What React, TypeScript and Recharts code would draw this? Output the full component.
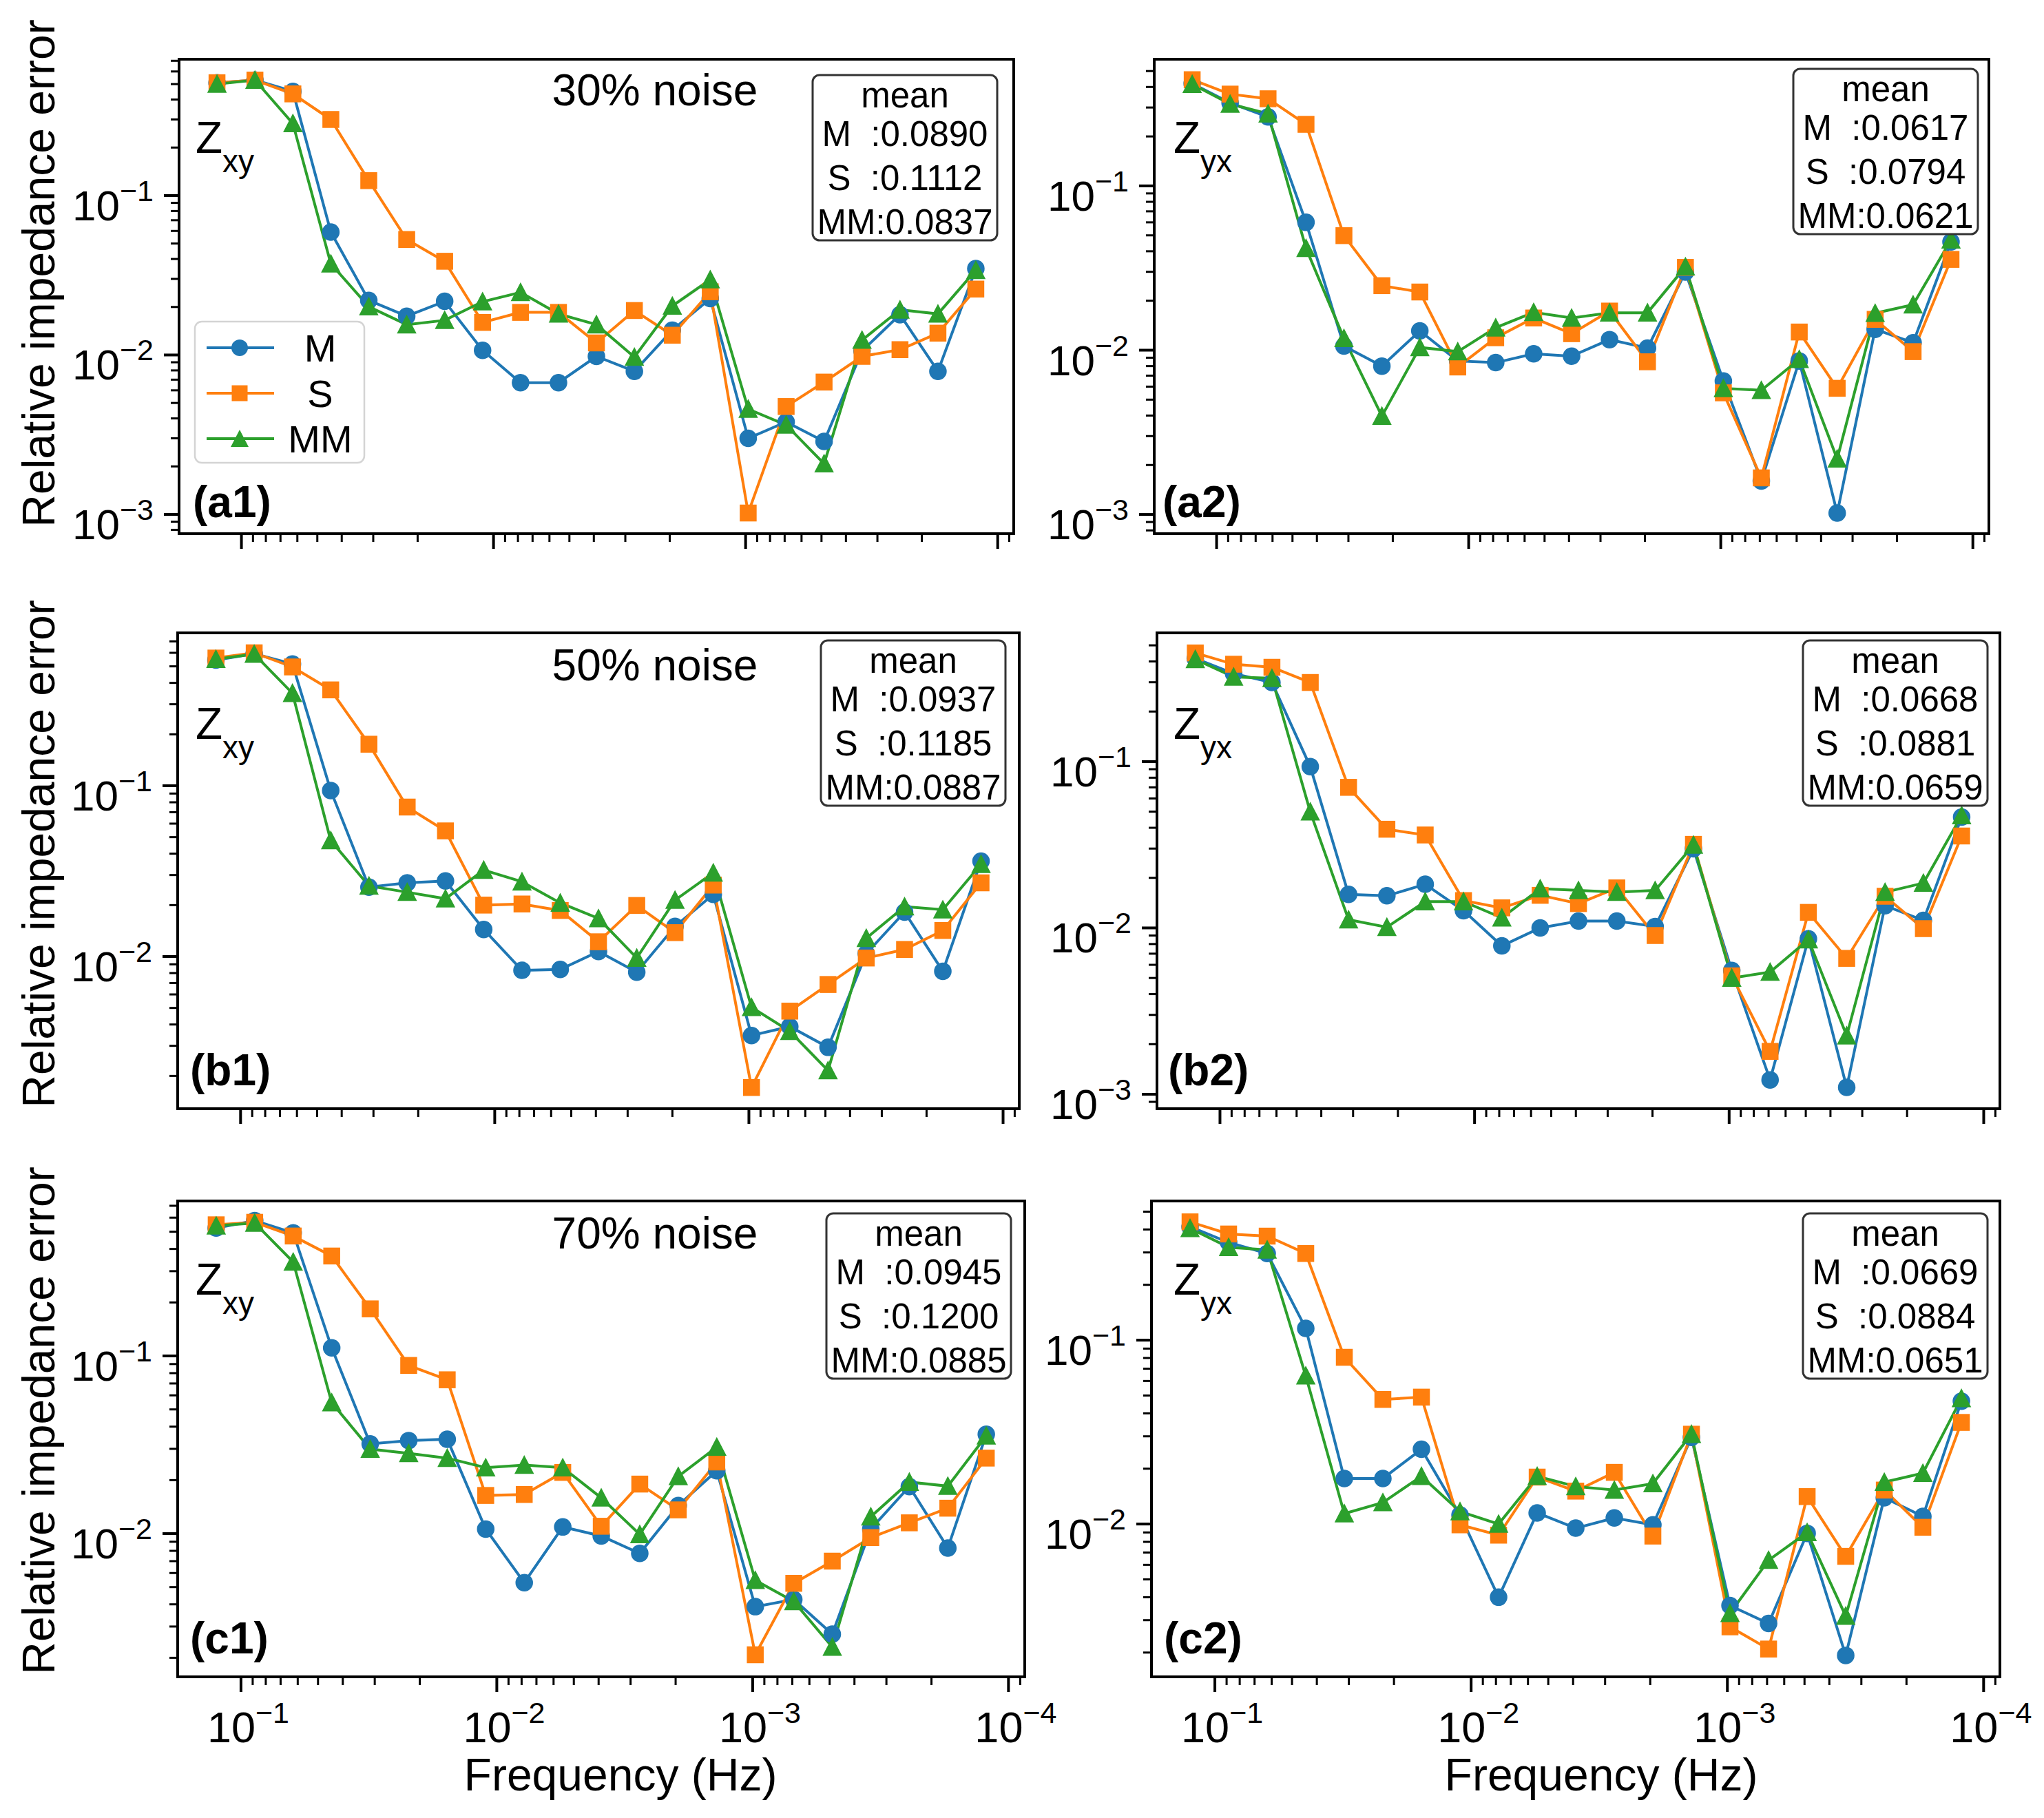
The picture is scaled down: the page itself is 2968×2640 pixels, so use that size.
import { Line, LineChart, ReferenceArea, XAxis, YAxis } from "recharts";

const FONT = '"Liberation Sans", Arial, Helvetica, sans-serif';
const BLUE = "#1f77b4";
const ORANGE = "#ff7f0e";
const GREEN = "#2ca02c";

// frequencies (Hz), halving every two points
const FREQS = [
  0.125, 0.08839, 0.0625, 0.04419, 0.03125, 0.0221, 0.015625, 0.01105, 0.0078125, 0.005524, 0.00390625,
  0.002762, 0.001953, 0.001381, 0.0009766, 0.0006905, 0.0004883, 0.0003453, 0.0002441, 0.0001726, 0.0001221,
];

const X_MAJOR = [1e-1, 1e-2, 1e-3, 1e-4];
const Y_MAJOR = [1e-1, 1e-2, 1e-3];
const MINOR_STEPS = [2, 3, 4, 5, 6, 7, 8, 9];
const X_DOMAIN: [number, number] = [8.637e-5, 0.17678];

// 30% noise
const a1M = [0.51, 0.53, 0.45, 0.059, 0.022, 0.0175, 0.0217, 0.0107, 0.0067, 0.0067, 0.0098, 0.0079, 0.0143, 0.0226, 0.003, 0.0038, 0.00287, 0.0106, 0.0179, 0.0079, 0.0348];
const a1S = [0.51, 0.53, 0.434, 0.3, 0.124, 0.053, 0.0387, 0.016, 0.0185, 0.0185, 0.0119, 0.019, 0.0133, 0.0249, 0.00102, 0.00475, 0.00676, 0.0098, 0.0108, 0.0137, 0.0259];
const a1MM = [0.5, 0.53, 0.283, 0.0373, 0.0201, 0.0155, 0.0165, 0.0216, 0.0247, 0.0181, 0.0155, 0.0097, 0.0203, 0.0297, 0.00458, 0.00364, 0.00208, 0.0124, 0.0192, 0.0181, 0.034];
const a2M = [0.42, 0.32, 0.263, 0.06, 0.0106, 0.008, 0.0131, 0.0086, 0.0084, 0.0095, 0.0092, 0.0116, 0.0103, 0.0299, 0.0065, 0.0016, 0.0086, 0.00102, 0.0134, 0.0111, 0.0456];
const a2S = [0.443, 0.362, 0.339, 0.237, 0.0498, 0.0247, 0.0226, 0.0079, 0.0119, 0.0157, 0.0126, 0.0173, 0.0085, 0.0319, 0.0055, 0.00167, 0.0129, 0.00586, 0.0154, 0.0098, 0.0357];
const a2MM = [0.416, 0.315, 0.275, 0.0417, 0.0118, 0.00397, 0.0104, 0.0098, 0.0137, 0.017, 0.0157, 0.0169, 0.0169, 0.0322, 0.00586, 0.0057, 0.0088, 0.00218, 0.0168, 0.0189, 0.047];

// 50% noise
const b1M = [0.544, 0.593, 0.516, 0.0938, 0.0255, 0.027, 0.0277, 0.0144, 0.0083, 0.0084, 0.0107, 0.0081, 0.015, 0.0231, 0.00345, 0.00389, 0.00294, 0.0104, 0.0182, 0.0082, 0.0362];
const b1S = [0.559, 0.6, 0.496, 0.364, 0.175, 0.075, 0.0544, 0.02, 0.0203, 0.0186, 0.0122, 0.0199, 0.0138, 0.0262, 0.00171, 0.00479, 0.00686, 0.0098, 0.011, 0.0142, 0.027];
const b1MM = [0.55, 0.59, 0.348, 0.0478, 0.0259, 0.0238, 0.0218, 0.0321, 0.0274, 0.0206, 0.0167, 0.0098, 0.0214, 0.0309, 0.00504, 0.00365, 0.00215, 0.0128, 0.0196, 0.0188, 0.0347];
const b2M = [0.417, 0.338, 0.299, 0.0932, 0.0159, 0.0156, 0.0183, 0.0127, 0.0078, 0.01, 0.011, 0.011, 0.0102, 0.0299, 0.00555, 0.00122, 0.0086, 0.0011, 0.0136, 0.0111, 0.0464];
const b2S = [0.45, 0.385, 0.369, 0.299, 0.07, 0.0392, 0.0362, 0.0146, 0.0132, 0.0157, 0.014, 0.0174, 0.009, 0.0318, 0.00515, 0.00181, 0.0124, 0.00656, 0.0155, 0.0099, 0.0357];
const b2MM = [0.412, 0.323, 0.317, 0.0499, 0.0112, 0.0101, 0.0144, 0.0144, 0.0115, 0.0172, 0.0168, 0.0164, 0.0168, 0.0315, 0.005, 0.00543, 0.0085, 0.00225, 0.0164, 0.0186, 0.0474];

// 70% noise
const c1M = [0.525, 0.577, 0.493, 0.111, 0.032, 0.0334, 0.034, 0.0106, 0.0053, 0.0109, 0.0097, 0.00774, 0.0144, 0.0226, 0.00388, 0.00426, 0.00272, 0.0106, 0.0184, 0.0083, 0.0362];
const c1S = [0.547, 0.565, 0.473, 0.365, 0.184, 0.0884, 0.0734, 0.0164, 0.0166, 0.0221, 0.011, 0.019, 0.0136, 0.0253, 0.00208, 0.00525, 0.007, 0.0095, 0.0115, 0.0139, 0.0266];
const c1MM = [0.54, 0.56, 0.338, 0.0546, 0.0299, 0.0283, 0.0266, 0.0235, 0.0243, 0.0235, 0.0159, 0.0099, 0.021, 0.0307, 0.00546, 0.00415, 0.0023, 0.01245, 0.0195, 0.0185, 0.0355];
const c2M = [0.414, 0.34, 0.296, 0.116, 0.0177, 0.0177, 0.0255, 0.0112, 0.004, 0.0115, 0.0095, 0.0108, 0.0099, 0.0296, 0.0036, 0.00288, 0.0089, 0.00193, 0.0139, 0.011, 0.0466];
const c2S = [0.44, 0.378, 0.368, 0.296, 0.0807, 0.0476, 0.049, 0.0099, 0.0087, 0.018, 0.0151, 0.0191, 0.0086, 0.0308, 0.00276, 0.00209, 0.0141, 0.00667, 0.0153, 0.0096, 0.0357];
const c2MM = [0.406, 0.32, 0.31, 0.064, 0.0114, 0.0131, 0.0182, 0.0117, 0.01, 0.0182, 0.016, 0.0153, 0.0166, 0.0308, 0.00327, 0.00636, 0.009, 0.00316, 0.0169, 0.0189, 0.0482];

// mean errors shown in the boxes: M, S, MM
const MEANS = {
  a1: ["0.0890", "0.1112", "0.0837"],
  a2: ["0.0617", "0.0794", "0.0621"],
  b1: ["0.0937", "0.1185", "0.0887"],
  b2: ["0.0668", "0.0881", "0.0659"],
  c1: ["0.0945", "0.1200", "0.0885"],
  c2: ["0.0669", "0.0884", "0.0651"],
};
const NOISE_TITLES = ["30% noise", "50% noise", "70% noise"];

// plot boxes in page pixels, log10 y limits
const PANELS = [
  { id: "a1", z: "xy", L: 260, T: 86, R: 1472, B: 775, yLog: [-3.121, -0.145], m: a1M, s: a1S, mm: a1MM, xLabels: false, box: [1180, 109] },
  { id: "a2", z: "yx", L: 1676, T: 86, R: 2888, B: 775, yLog: [-3.117, -0.229], m: a2M, s: a2S, mm: a2MM, xLabels: false, box: [2604, 100] },
  { id: "b1", z: "xy", L: 258, T: 919, R: 1480, B: 1610, yLog: [-2.891, -0.105], m: b1M, s: b1S, mm: b1MM, xLabels: false, box: [1192, 930] },
  { id: "b2", z: "yx", L: 1680, T: 919, R: 2904, B: 1610, yLog: [-3.087, -0.226], m: b2M, s: b2S, mm: b2MM, xLabels: false, box: [2618, 930] },
  { id: "c1", z: "xy", L: 258, T: 1744, R: 1488, B: 2435, yLog: [-2.806, -0.128], m: c1M, s: c1S, mm: c1MM, xLabels: true, box: [1200, 1762] },
  { id: "c2", z: "yx", L: 1672, T: 1744, R: 2904, B: 2435, yLog: [-2.831, -0.243], m: c2M, s: c2S, mm: c2MM, xLabels: true, box: [2618, 1762] },
];

function logTicks(majors: number[], lo: number, hi: number) {
  const out: number[] = [];
  for (const m of majors) {
    out.push(m);
    for (const k of MINOR_STEPS) out.push(m * k);
  }
  for (const k of MINOR_STEPS) out.push(majors[majors.length - 1] * k / 10);
  return out.filter((v) => v >= lo * 0.999 && v <= hi * 1.001).sort((a, b) => a - b);
}

const isMajor = (v: number) => Math.abs(Math.log10(v) - Math.round(Math.log10(v))) < 1e-6;
const expOf = (v: number) => `\u2212${-Math.round(Math.log10(v))}`;

function XTick({ x, y, payload, showLabel }: any) {
  const v = payload.value;
  const major = isMajor(v);
  return (
    <g>
      <line x1={x} x2={x} y1={y} y2={y + (major ? 22 : 12)} stroke="#000" strokeWidth={major ? 4 : 3} />
      {major && showLabel && (
        <text x={x - 49} y={y + 95} fontSize={63} fontFamily={FONT} fill="#000">
          10<tspan dy={-28} fontSize={43}>{expOf(v)}</tspan>
        </text>
      )}
    </g>
  );
}

function YTick({ x, y, payload }: any) {
  const v = payload.value;
  const major = isMajor(v);
  return (
    <g>
      <line x1={x - (major ? 22 : 12)} x2={x} y1={y} y2={y} stroke="#000" strokeWidth={major ? 4 : 3} />
      {major && (
        <text x={x - 37} y={y + 36} fontSize={62} fontFamily={FONT} fill="#000" textAnchor="end">
          10<tspan dy={-28} fontSize={43}>{expOf(v)}</tspan>
        </text>
      )}
    </g>
  );
}

const circleDot = (color: string) => (p: any) =>
  <circle key={`c${p.index}`} cx={p.cx} cy={p.cy} r={12} fill={color} stroke={color} strokeWidth={1.5} />;
const squareDot = (color: string) => (p: any) =>
  <rect key={`s${p.index}`} x={p.cx - 11.5} y={p.cy - 11.5} width={23} height={23} fill={color} stroke={color} strokeWidth={1.5} />;
const triDot = (color: string) => (p: any) => (
  <polygon
    key={`t${p.index}`}
    points={`${p.cx},${p.cy - 13} ${p.cx - 13},${p.cy + 12} ${p.cx + 13},${p.cy + 12}`}
    fill={color}
    stroke={color}
    strokeWidth={1.5}
  />
);

const Y_AXIS_W = 250;
const TOP_PAD = 10;
const RIGHT_PAD = 80;

function Panel({ p }: { p: (typeof PANELS)[number] }) {
  const xAxisH = p.xLabels ? 130 : 40;
  const w = Y_AXIS_W + (p.R - p.L) + RIGHT_PAD;
  const h = TOP_PAD + (p.B - p.T) + xAxisH;
  const rows = FREQS.map((f, i) => ({ f, M: p.m[i], S: p.s[i], MM: p.mm[i] }));
  const yDomain: [number, number] = [10 ** p.yLog[0], 10 ** p.yLog[1]];
  return (
    <div style={{ position: "absolute", left: p.L - Y_AXIS_W, top: p.T - TOP_PAD }}>
      <LineChart width={w} height={h} data={rows} margin={{ top: TOP_PAD, right: RIGHT_PAD, left: 0, bottom: 0 }}>
        <XAxis
          dataKey="f"
          type="number"
          scale="log"
          domain={X_DOMAIN}
          reversed
          allowDataOverflow
          ticks={logTicks(X_MAJOR, X_DOMAIN[0], X_DOMAIN[1])}
          interval={0}
          axisLine={false}
          tickLine={false}
          tickSize={0}
          tickMargin={0}
          height={xAxisH}
          tick={(t: any) => <XTick {...t} showLabel={p.xLabels} />}
        />
        <YAxis
          type="number"
          scale="log"
          domain={yDomain}
          allowDataOverflow
          ticks={logTicks(Y_MAJOR, yDomain[0], yDomain[1])}
          interval={0}
          axisLine={false}
          tickLine={false}
          tickSize={0}
          tickMargin={0}
          width={Y_AXIS_W}
          tick={(t: any) => <YTick {...t} />}
        />
        <Line type="linear" dataKey="M" stroke={BLUE} strokeWidth={4} dot={circleDot(BLUE)} activeDot={false} isAnimationActive={false} />
        <Line type="linear" dataKey="S" stroke={ORANGE} strokeWidth={4} dot={squareDot(ORANGE)} activeDot={false} isAnimationActive={false} />
        <Line type="linear" dataKey="MM" stroke={GREEN} strokeWidth={4} dot={triDot(GREEN)} activeDot={false} isAnimationActive={false} />
        <ReferenceArea
          x1={X_DOMAIN[0]}
          x2={X_DOMAIN[1]}
          y1={yDomain[0]}
          y2={yDomain[1]}
          fill="none"
          stroke="#000"
          strokeWidth={4}
          ifOverflow="visible"
        />
      </LineChart>
    </div>
  );
}

function MeanBox({ x, y, values }: { x: number; y: number; values: string[] }) {
  const cx = x + 134;
  return (
    <g fontFamily={FONT} fontSize={51} fill="#000">
      <rect x={x} y={y} width={268} height={240} rx={10} fill="#fff" stroke="#333" strokeWidth={3} />
      <text x={cx} y={y + 47} textAnchor="middle">mean</text>
      <text x={cx} y={y + 103} textAnchor="middle" style={{ whiteSpace: "pre" }}>{`M  :${values[0]}`}</text>
      <text x={cx} y={y + 167} textAnchor="middle" style={{ whiteSpace: "pre" }}>{`S  :${values[1]}`}</text>
      <text x={cx} y={y + 231} textAnchor="middle" style={{ whiteSpace: "pre" }}>{`MM:${values[2]}`}</text>
    </g>
  );
}

function SeriesLegend() {
  const rows = [
    { name: "M", color: BLUE, y: 505 },
    { name: "S", color: ORANGE, y: 571 },
    { name: "MM", color: GREEN, y: 637 },
  ];
  return (
    <g fontFamily={FONT} fontSize={56}>
      <rect x={283} y={467} width={246} height={205} rx={10} fill="#fff" fillOpacity={0.8} stroke="#d4d4d4" strokeWidth={2.5} />
      {rows.map((r) => (
        <g key={r.name}>
          <line x1={300} x2={398} y1={r.y} y2={r.y} stroke={r.color} strokeWidth={4} />
          {r.name === "M" && <circle cx={348} cy={r.y} r={12} fill={r.color} />}
          {r.name === "S" && <rect x={336.5} y={r.y - 11.5} width={23} height={23} fill={r.color} />}
          {r.name === "MM" && (
            <polygon points={`348,${r.y - 13} 335,${r.y + 12} 361,${r.y + 12}`} fill={r.color} />
          )}
          <text x={465} y={r.y + 20} textAnchor="middle" fill="#000">{r.name}</text>
        </g>
      ))}
    </g>
  );
}

const ROW_LABEL_CY = [397, 1240, 2063];
const TITLE_BASE = [153, 988, 1813];
const Z_BASE = [222, 1073, 1880];
const TAG_BASE = [751, 1576, 2401];
const TAG_X: Record<string, number> = { a1: 280, a2: 1688, b1: 276, b2: 1696, c1: 276, c2: 1690 };

function Annotations() {
  return (
    <svg
      width={2968}
      height={2640}
      style={{ position: "absolute", left: 0, top: 0, pointerEvents: "none" }}
      fontFamily={FONT}
    >
      {ROW_LABEL_CY.map((cy) => (
        <text key={cy} x={79} y={cy} transform={`rotate(-90 79 ${cy})`} textAnchor="middle" fontSize={66} fill="#000">
          Relative impedance error
        </text>
      ))}
      <text x={901} y={2600} textAnchor="middle" fontSize={66} fill="#000">Frequency (Hz)</text>
      <text x={2325} y={2600} textAnchor="middle" fontSize={66} fill="#000">Frequency (Hz)</text>
      {NOISE_TITLES.map((t, i) => (
        <text key={t} x={951} y={TITLE_BASE[i]} textAnchor="middle" fontSize={64} fill="#000">{t}</text>
      ))}
      {PANELS.map((p, i) => {
        const row = Math.floor(i / 2);
        const zx = p.L < 1000 ? 284 : 1704;
        return (
          <g key={p.id}>
            <text x={zx} y={Z_BASE[row]} fontSize={64} fill="#000">
              Z<tspan dy={28} fontSize={46}>{p.z}</tspan>
            </text>
            <text x={TAG_X[p.id]} y={TAG_BASE[row]} fontSize={64} fontWeight="bold" fill="#000">({p.id})</text>
            <MeanBox x={p.box[0]} y={p.box[1]} values={MEANS[p.id as keyof typeof MEANS]} />
          </g>
        );
      })}
      <SeriesLegend />
    </svg>
  );
}

export default function App() {
  return (
    <div style={{ position: "absolute", left: 0, top: 0, width: 2968, height: 2640, background: "#fff" }}>
      {PANELS.map((p) => (
        <Panel key={p.id} p={p} />
      ))}
      <Annotations />
    </div>
  );
}
